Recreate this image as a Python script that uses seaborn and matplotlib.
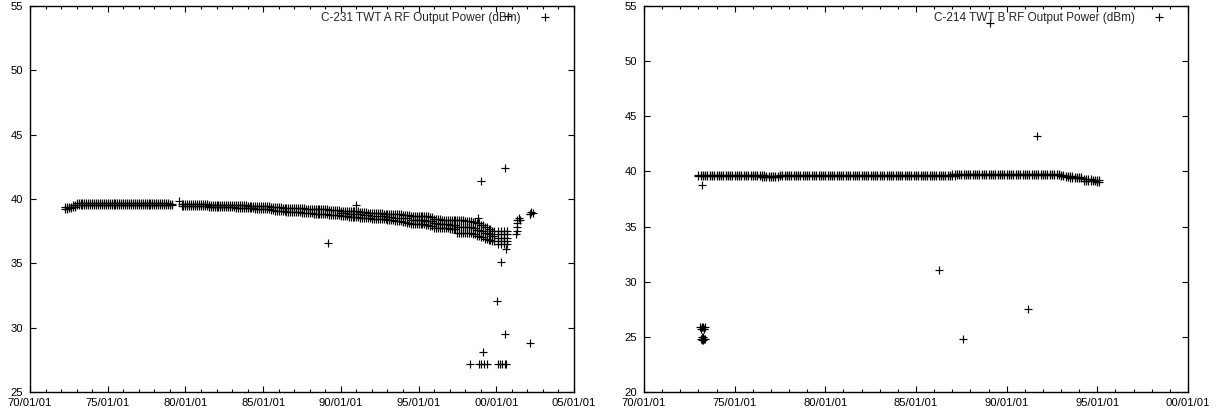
import matplotlib
matplotlib.use("Agg")
import matplotlib.pyplot as plt
from matplotlib.lines import Line2D
from matplotlib.ticker import FixedLocator, MultipleLocator
import seaborn as sns
import numpy as np

# ---------------- data: left panel (C-231 TWT A) ----------------
left_label = "C-231 TWT A RF Output Power (dBm)"
left_band_years = [
    1972.25, 1972.5, 1972.75,
    1973.0, 1973.25, 1973.5, 1973.75, 1974.0, 1974.25, 1974.5, 1974.75,
    1975.0, 1975.25, 1975.5, 1975.75, 1976.0, 1976.25, 1976.5, 1976.75,
    1977.0, 1977.25, 1977.5, 1977.75, 1978.0, 1978.25, 1978.5, 1978.75,
    1979.0, 1979.75,
    1980.0, 1980.25, 1980.5, 1980.75, 1981.0, 1981.25, 1981.5, 1981.75,
    1982.0, 1982.25, 1982.5, 1982.75, 1983.0, 1983.25, 1983.5, 1983.75,
    1984.0, 1984.25, 1984.5, 1984.75, 1985.0, 1985.25, 1985.5, 1985.75,
    1986.0, 1986.25, 1986.5, 1986.75, 1987.0, 1987.25, 1987.5, 1987.75,
    1988.0, 1988.25, 1988.5, 1988.75, 1989.0, 1989.25, 1989.5, 1989.75,
    1990.0, 1990.25, 1990.5, 1990.75, 1991.0, 1991.25, 1991.5, 1991.75,
    1992.0, 1992.25, 1992.5, 1992.75, 1993.0, 1993.25, 1993.5, 1993.75,
    1994.0, 1994.25, 1994.5, 1994.75, 1995.0, 1995.25, 1995.5, 1995.75,
    1996.0, 1996.25, 1996.5, 1996.75, 1997.0, 1997.25,
    1997.5, 1997.75, 1998.0, 1998.25, 1998.5, 1998.75,
    1999.0, 1999.25, 1999.5, 1999.75,
]
# second sampling of the same band, read between the first sampling dates
left_band_years_b = [
    1972.375, 1972.625, 1972.875,
    1973.125, 1973.375, 1973.625, 1973.875, 1974.125, 1974.375, 1974.625, 1974.875,
    1975.125, 1975.375, 1975.625, 1975.875, 1976.125, 1976.375, 1976.625, 1976.875,
    1977.125, 1977.375, 1977.625, 1977.875, 1978.125, 1978.375, 1978.625, 1978.875,
    1979.125, 1979.875,
    1980.125, 1980.375, 1980.625, 1980.875, 1981.125, 1981.375, 1981.625, 1981.875,
    1982.125, 1982.375, 1982.625, 1982.875, 1983.125, 1983.375, 1983.625, 1983.875,
    1984.125, 1984.375, 1984.625, 1984.875, 1985.125, 1985.375, 1985.625, 1985.875,
    1986.125, 1986.375, 1986.625, 1986.875, 1987.125, 1987.375, 1987.625, 1987.875,
    1988.125, 1988.375, 1988.625, 1988.875, 1989.125, 1989.375, 1989.625, 1989.875,
    1990.125, 1990.375, 1990.625, 1990.875, 1991.125, 1991.375, 1991.625, 1991.875,
    1992.125, 1992.375, 1992.625, 1992.875, 1993.125, 1993.375, 1993.625, 1993.875,
    1994.125, 1994.375, 1994.625, 1994.875, 1995.125, 1995.375, 1995.625, 1995.875,
    1996.125, 1996.375, 1996.625, 1996.875, 1997.125, 1997.375,
    1997.625, 1997.875, 1998.125, 1998.375, 1998.625, 1998.875,
    1999.125, 1999.375, 1999.625, 1999.875,
]
left_band_top = [
    39.35, 39.4, 39.5,
    39.66, 39.66, 39.68, 39.66, 39.66, 39.68, 39.66, 39.66,
    39.66, 39.68, 39.66, 39.66, 39.66, 39.68, 39.66, 39.66,
    39.66, 39.66, 39.68, 39.66, 39.66, 39.66, 39.68, 39.66,
    39.65, 39.65,
    39.6, 39.6, 39.6, 39.58, 39.58, 39.58, 39.56, 39.56,
    39.55, 39.55, 39.55, 39.52, 39.52, 39.5, 39.5, 39.5,
    39.48, 39.48, 39.45, 39.45, 39.42, 39.42, 39.4, 39.35,
    39.35, 39.33, 39.33, 39.3, 39.3, 39.28, 39.28, 39.25,
    39.25, 39.22, 39.22, 39.2, 39.2, 39.18, 39.15, 39.12,
    39.1, 39.1, 39.08, 39.05, 39.05, 39.0, 39.0, 38.95,
    38.95, 38.9, 38.9, 38.85, 38.85, 38.8, 38.8, 38.8,
    38.75, 38.75, 38.7, 38.7, 38.7, 38.65, 38.65, 38.6,
    38.45, 38.45, 38.4, 38.4, 38.4, 38.35,
    38.4, 38.35, 38.3, 38.3, 38.25, 38.1,
    38.0, 37.85, 37.7, 37.55,
]
left_band_bottom = [
    39.25, 39.28, 39.35,
    39.56, 39.56, 39.56, 39.56, 39.56, 39.56, 39.56, 39.56,
    39.56, 39.56, 39.56, 39.56, 39.56, 39.56, 39.56, 39.56,
    39.56, 39.56, 39.56, 39.56, 39.56, 39.56, 39.56, 39.56,
    39.5, 39.45,
    39.45, 39.45, 39.44, 39.42, 39.42, 39.42, 39.4, 39.4,
    39.38, 39.38, 39.37, 39.35, 39.34, 39.32, 39.32, 39.3,
    39.29, 39.27, 39.26, 39.24, 39.22, 39.2, 39.17, 39.08,
    39.07, 39.04, 39.02, 39.0, 38.97, 38.97, 38.94, 38.92,
    38.9, 38.87, 38.84, 38.82, 38.82, 38.77, 38.74, 38.72,
    38.67, 38.64, 38.62, 38.6, 38.57, 38.54, 38.52, 38.5,
    38.47, 38.44, 38.42, 38.42, 38.4, 38.37, 38.32, 38.27,
    38.22, 38.12, 38.07, 38.07, 38.02, 38.02, 37.97, 37.92,
    37.77, 37.74, 37.72, 37.72, 37.7, 37.67,
    37.37, 37.37, 37.32, 37.32, 37.27, 37.12,
    37.02, 36.92, 36.82, 36.72,
]
left_mid_years = [
    1990.0, 1990.5, 1991.0, 1991.5, 1992.0, 1992.5,
    1993.0, 1993.5, 1994.0, 1994.5, 1994.75, 1995.0, 1995.25, 1995.5, 1995.75,
    1996.0, 1996.25, 1996.5, 1996.75, 1997.0, 1997.25,
    1997.5, 1997.75, 1998.0, 1998.25, 1998.5, 1998.75,
    1999.0, 1999.25, 1999.5, 1999.75,
]
left_mid_years_b = [
    1990.25, 1990.75, 1991.25, 1991.75, 1992.25, 1992.75,
    1993.25, 1993.75, 1994.25, 1994.625, 1994.875, 1995.125, 1995.375, 1995.625, 1995.875,
    1996.125, 1996.375, 1996.625, 1996.875, 1997.125, 1997.375,
    1997.625, 1997.875, 1998.125, 1998.375, 1998.625, 1998.875,
    1999.125, 1999.375, 1999.625, 1999.875,
]
left_mid_values = [
    38.9, 38.85, 38.8, 38.75, 38.7, 38.65,
    38.6, 38.55, 38.5, 38.4, 38.4, 38.35, 38.35, 38.3, 38.3,
    38.1, 38.05, 38.05, 38.05, 38.0, 38.0,
    37.85, 37.85, 37.8, 37.8, 37.75, 37.6,
    37.5, 37.35, 37.25, 37.1,
]
# dense columns just after 2000 and scattered points
left_pts_years = [
    2000.1, 2000.1, 2000.1, 2000.1, 2000.1,
    2000.3, 2000.3, 2000.3, 2000.3, 2000.3,
    2000.5, 2000.5, 2000.5, 2000.5, 2000.5,
    2000.7, 2000.7, 2000.7, 2000.7, 2000.7,
    2001.35, 2001.45, 2001.55, 2001.35, 2001.35, 2001.35, 2001.3,
    2002.15, 2002.25, 2002.35, 2002.2,
    2000.54, 1999.03, 2000.6, 2000.3, 2000.04, 2000.54, 1999.14,
    1998.34, 1998.88, 1999.03, 1999.18, 1999.4,
    2000.11, 2000.21, 2000.37, 2000.54, 2000.65,
    2002.19, 1989.2, 1979.6, 1991.0, 1998.8, 2000.75,
]
left_pts_values = [
    37.5, 37.25, 37.0, 36.75, 36.5,
    37.5, 37.25, 37.0, 36.75, 36.5,
    37.5, 37.25, 37.0, 36.75, 36.5,
    37.5, 37.25, 37.0, 36.75, 36.5,
    38.4, 38.5, 38.4, 38.1, 37.8, 37.5, 37.3,
    38.8, 39.0, 38.95, 38.85,
    42.4, 41.4, 36.1, 35.1, 32.1, 29.5, 28.1,
    27.2, 27.2, 27.2, 27.2, 27.2,
    27.2, 27.2, 27.2, 27.2, 27.2,
    28.8, 36.6, 39.85, 39.5, 38.5, 54.2,
]

# ---------------- data: right panel (C-214 TWT B) ----------------
right_label = "C-214 TWT B RF Output Power (dBm)"
right_band_years = [
    1973.0, 1973.25, 1973.5, 1973.75, 1974.0, 1974.25, 1974.5, 1974.75,
    1975.0, 1975.25, 1975.5, 1975.75, 1976.0, 1976.25, 1976.5, 1976.75,
    1977.0, 1977.25, 1977.5, 1977.75, 1978.0, 1978.25, 1978.5, 1978.75,
    1979.0, 1979.25, 1979.5, 1979.75, 1980.0, 1980.25, 1980.5, 1980.75,
    1981.0, 1981.25, 1981.5, 1981.75, 1982.0, 1982.25, 1982.5, 1982.75,
    1983.0, 1983.25, 1983.5, 1983.75, 1984.0, 1984.25, 1984.5, 1984.75,
    1985.0, 1985.25, 1985.5, 1985.75, 1986.0, 1986.25, 1986.5, 1986.75,
    1987.0, 1987.25, 1987.5, 1987.75, 1988.0, 1988.25, 1988.5, 1988.75,
    1989.0, 1989.25, 1989.5, 1989.75, 1990.0, 1990.25, 1990.5, 1990.75,
    1991.0, 1991.25, 1991.5, 1991.75, 1992.0, 1992.25, 1992.5, 1992.75,
    1993.0, 1993.25, 1993.5, 1993.75, 1994.0, 1994.25, 1994.5, 1994.75,
    1995.0,
]
right_band_years_b = [
    1973.125, 1973.375, 1973.625, 1973.875, 1974.125, 1974.375, 1974.625, 1974.875,
    1975.125, 1975.375, 1975.625, 1975.875, 1976.125, 1976.375, 1976.625, 1976.875,
    1977.125, 1977.375, 1977.625, 1977.875, 1978.125, 1978.375, 1978.625, 1978.875,
    1979.125, 1979.375, 1979.625, 1979.875, 1980.125, 1980.375, 1980.625, 1980.875,
    1981.125, 1981.375, 1981.625, 1981.875, 1982.125, 1982.375, 1982.625, 1982.875,
    1983.125, 1983.375, 1983.625, 1983.875, 1984.125, 1984.375, 1984.625, 1984.875,
    1985.125, 1985.375, 1985.625, 1985.875, 1986.125, 1986.375, 1986.625, 1986.875,
    1987.125, 1987.375, 1987.625, 1987.875, 1988.125, 1988.375, 1988.625, 1988.875,
    1989.125, 1989.375, 1989.625, 1989.875, 1990.125, 1990.375, 1990.625, 1990.875,
    1991.125, 1991.375, 1991.625, 1991.875, 1992.125, 1992.375, 1992.625, 1992.875,
    1993.125, 1993.375, 1993.625, 1993.875, 1994.125, 1994.375, 1994.625, 1994.875,
    1995.1,
]
right_band_top = [
    39.65, 39.65, 39.65, 39.65, 39.65, 39.65, 39.65, 39.65,
    39.65, 39.65, 39.65, 39.65, 39.65, 39.65, 39.65, 39.62,
    39.62, 39.62, 39.65, 39.65, 39.65, 39.65, 39.65, 39.65,
    39.65, 39.65, 39.65, 39.65, 39.65, 39.65, 39.65, 39.65,
    39.65, 39.65, 39.65, 39.65, 39.65, 39.65, 39.65, 39.65,
    39.65, 39.65, 39.65, 39.65, 39.65, 39.65, 39.65, 39.65,
    39.65, 39.65, 39.65, 39.65, 39.65, 39.65, 39.68, 39.7,
    39.73, 39.76, 39.78, 39.78, 39.78, 39.78, 39.78, 39.8,
    39.8, 39.8, 39.8, 39.8, 39.8, 39.8, 39.8, 39.8,
    39.8, 39.8, 39.8, 39.8, 39.8, 39.8, 39.78, 39.78,
    39.72, 39.62, 39.58, 39.52, 39.48, 39.33, 39.28, 39.24,
    39.22,
]
right_band_bottom = [
    39.55, 39.55, 39.55, 39.55, 39.55, 39.55, 39.55, 39.55,
    39.55, 39.55, 39.55, 39.55, 39.55, 39.55, 39.52, 39.52,
    39.52, 39.52, 39.55, 39.55, 39.55, 39.55, 39.55, 39.55,
    39.55, 39.55, 39.55, 39.55, 39.55, 39.55, 39.55, 39.55,
    39.55, 39.55, 39.55, 39.55, 39.55, 39.55, 39.55, 39.55,
    39.55, 39.55, 39.55, 39.55, 39.55, 39.55, 39.55, 39.55,
    39.55, 39.55, 39.55, 39.55, 39.55, 39.55, 39.58, 39.6,
    39.62, 39.64, 39.67, 39.67, 39.67, 39.67, 39.67, 39.7,
    39.7, 39.7, 39.7, 39.7, 39.7, 39.7, 39.7, 39.7,
    39.7, 39.7, 39.7, 39.7, 39.7, 39.7, 39.67, 39.64,
    39.57, 39.47, 39.42, 39.42, 39.37, 39.17, 39.12, 39.12,
    39.08,
]
right_pts_years = [
    1973.2, 1986.25, 1987.6, 1991.15, 1991.7, 1989.1,
    1973.1, 1973.18, 1973.26, 1973.34, 1973.14, 1973.3,
    1973.12, 1973.18, 1973.24, 1973.3, 1973.36, 1973.2, 1973.28, 1973.22, 1973.26,
]
right_pts_values = [
    38.8, 31.1, 24.85, 27.5, 43.2, 53.5,
    25.85, 25.85, 25.85, 25.85, 25.75, 25.75,
    24.85, 24.85, 24.85, 24.85, 24.85, 24.75, 24.75, 24.95, 24.95,
]

# ---------------- axes / ticks ----------------
left_xticks = [1970, 1975, 1980, 1985, 1990, 1995, 2000, 2005]
left_xticklabels = ["70/01/01", "75/01/01", "80/01/01", "85/01/01",
                    "90/01/01", "95/01/01", "00/01/01", "05/01/01"]
left_yticks = [25, 30, 35, 40, 45, 50, 55]
right_xticks = [1970, 1975, 1980, 1985, 1990, 1995, 2000]
right_xticklabels = ["70/01/01", "75/01/01", "80/01/01", "85/01/01",
                     "90/01/01", "95/01/01", "00/01/01"]
right_yticks = [20, 25, 30, 35, 40, 45, 50, 55]

sns.set_style("ticks")
plt.rcParams["font.family"] = ["Liberation Sans", "DejaVu Sans"]

W, H = 1217, 413
fig = plt.figure(figsize=(W / 100, H / 100), dpi=100)
ax_l = fig.add_axes([30 / W, 1 - 392 / H, 544 / W, 386 / H])
ax_r = fig.add_axes([644 / W, 1 - 392 / H, 544 / W, 386 / H])

MS = 26
LW = 0.85


def draw(ax, groups):
    for xs, ys in groups:
        sns.scatterplot(x=np.asarray(xs, float), y=np.asarray(ys, float), ax=ax,
                        marker="+", color="black", s=MS, linewidth=LW,
                        legend=False)


draw(ax_l, [(left_band_years, left_band_top),
            (left_band_years, left_band_bottom),
            (left_band_years_b, left_band_top),
            (left_band_years_b, left_band_bottom),
            (left_mid_years, left_mid_values),
            (left_mid_years_b, left_mid_values),
            (left_pts_years, left_pts_values)])
draw(ax_r, [(right_band_years, right_band_top),
            (right_band_years, right_band_bottom),
            (right_band_years_b, right_band_top),
            (right_band_years_b, right_band_bottom),
            (right_pts_years, right_pts_values)])


def style(ax, xticks, xlabels, yticks, xlim, ylim, label):
    ax.set_xlim(*xlim)
    ax.set_ylim(*ylim)
    ax.xaxis.set_major_locator(FixedLocator(xticks))
    ax.set_xticklabels(xlabels)
    ax.xaxis.set_minor_locator(MultipleLocator(1))
    ax.yaxis.set_major_locator(FixedLocator(yticks))
    ax.set_yticklabels([str(v) for v in yticks])
    ax.set_xlabel("")
    ax.set_ylabel("")
    for sp in ax.spines.values():
        sp.set_visible(True)
        sp.set_color("black")
        sp.set_linewidth(1.0)
    ax.tick_params(which="both", direction="in", top=True, right=True,
                   colors="black", labelsize=8.1, width=0.8)
    ax.tick_params(which="major", length=4.5)
    ax.tick_params(which="minor", length=2.5)
    ax.tick_params(axis="x", which="major", pad=4.5)
    ax.tick_params(axis="y", which="major", pad=5)
    handle = Line2D([], [], marker="+", linestyle="", color="black",
                    markersize=5.1, markeredgewidth=0.85)
    ax.legend([handle], [label], loc="upper right", markerfirst=False,
              frameon=False, fontsize=8.5, handlelength=2.5,
              handletextpad=0.8, borderpad=0, borderaxespad=0,
              bbox_to_anchor=(0.974, 0.985))


style(ax_l, left_xticks, left_xticklabels, left_yticks, (1970, 2005), (25, 55),
      left_label)
style(ax_r, right_xticks, right_xticklabels, right_yticks, (1970, 2000), (20, 55),
      right_label)

fig.savefig("out.png", dpi=100)
